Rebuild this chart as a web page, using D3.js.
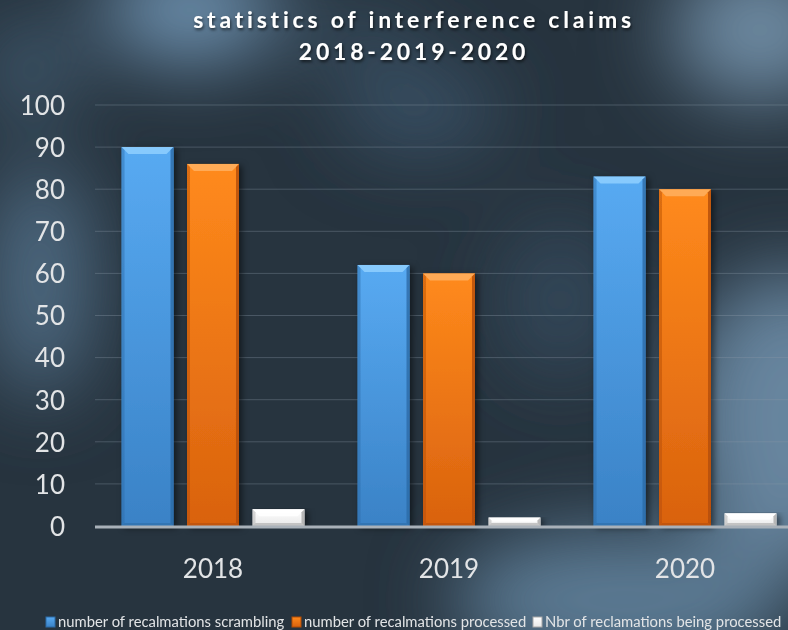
<!DOCTYPE html>
<html>
<head>
<meta charset="utf-8">
<script src="https://cdn.jsdelivr.net/npm/d3@7"></script>
<style>
  body { margin: 0; background: #26333f; }
  svg { display: block; }
</style>
</head>
<body>
<div id="chart"></div>
<script>
var years = ['2018', '2019', '2020'];
var series = ['number of recalmations scrambling', 'number of recalmations processed', 'Nbr of reclamations being processed'];
var scrambling = [90, 62, 83];
var processed = [86, 60, 80];
var beingProcessed = [4, 2, 3];
var yTicks = [0, 10, 20, 30, 40, 50, 60, 70, 80, 90, 100];

var width = 788, height = 630;
var margin = {top: 105, left: 95, bottom: 104};

var colors = [
  {top: '#58aaf2', bottom: '#3a82c6', light: '#8fd0ff', dark: '#2c6aa6'},
  {top: '#ff8a1c', bottom: '#d9620e', light: '#ffb060', dark: '#b24c06'},
  {top: '#ffffff', bottom: '#e8e8e8', light: '#ffffff', dark: '#a8a8a8'}
];

var svg = d3.select('#chart').append('svg')
    .attr('width', width)
    .attr('height', height);

var defs = svg.append('defs');

// background blotches
defs.append('filter').attr('id', 'blur')
    .attr('x', '-50%').attr('y', '-50%').attr('width', '200%').attr('height', '200%')
  .append('feGaussianBlur').attr('stdDeviation', 40);

var shadow = defs.append('filter').attr('id', 'tshadow');
shadow.append('feDropShadow').attr('dx', 1).attr('dy', 2).attr('stdDeviation', 1.5)
    .attr('flood-color', '#000').attr('flood-opacity', 0.6);

var barShadow = defs.append('filter').attr('id', 'bshadow')
    .attr('x', '-20%').attr('y', '-5%').attr('width', '150%').attr('height', '115%');
barShadow.append('feDropShadow').attr('dx', 3).attr('dy', 2).attr('stdDeviation', 3)
    .attr('flood-color', '#000').attr('flood-opacity', 0.5);

colors.forEach(function (c, i) {
  var g = defs.append('linearGradient').attr('id', 'grad' + i)
      .attr('x1', 0).attr('y1', 0).attr('x2', 0).attr('y2', 1);
  g.append('stop').attr('offset', '0%').attr('stop-color', c.top);
  g.append('stop').attr('offset', '100%').attr('stop-color', c.bottom);
});

svg.append('rect')
    .attr('width', width).attr('height', height)
    .attr('fill', '#27343f');

var blotches = [
  {x: 190, y: 10, rx: 90, ry: 50, c: '#7aa2c4', o: 0.9},
  {x: 760, y: 30, rx: 90, ry: 70, c: '#7c9cb6', o: 0.85},
  {x: 30, y: 70, rx: 40, ry: 50, c: '#4e6a84', o: 0.8},
  {x: 40, y: 280, rx: 50, ry: 120, c: '#55738e', o: 0.9},
  {x: 790, y: 420, rx: 110, ry: 150, c: '#6e8ea8', o: 0.9},
  {x: 620, y: 600, rx: 170, ry: 70, c: '#5f7f9a', o: 0.95},
  {x: 420, y: 110, rx: 80, ry: 40, c: '#44607a', o: 0.7},
  {x: 560, y: 300, rx: 60, ry: 80, c: '#3e566c', o: 0.6},
  {x: 360, y: 40, rx: 60, ry: 30, c: '#3f5a72', o: 0.6}
];

svg.append('g').attr('filter', 'url(#blur)')
  .selectAll('ellipse')
  .data(blotches)
  .enter()
  .append('ellipse')
    .attr('cx', d => d.x).attr('cy', d => d.y)
    .attr('rx', d => d.rx).attr('ry', d => d.ry)
    .attr('fill', d => d.c).attr('opacity', d => d.o);

// scales
var x0 = d3.scaleBand()
    .domain(years)
    .range([margin.left, 803])
    .paddingInner(0)
    .paddingOuter(0);

var x1 = d3.scaleBand()
    .domain(d3.range(series.length))
    .range([0, x0.bandwidth()])
    .paddingInner(0.206)
    .paddingOuter(0.405);

var y = d3.scaleLinear()
    .domain([0, 100])
    .range([526, margin.top]);

// grid
svg.append('g')
  .selectAll('line')
  .data(yTicks.filter(d => d > 0))
  .enter()
  .append('line')
    .attr('x1', margin.left).attr('x2', width)
    .attr('y1', d => y(d)).attr('y2', d => y(d))
    .attr('stroke', '#8b9aa8')
    .attr('stroke-opacity', 0.35)
    .attr('stroke-width', 1);

// y axis labels
var yAxis = d3.axisLeft(y).tickValues(yTicks).tickSize(0).tickPadding(0);
var ya = svg.append('g')
    .attr('transform', 'translate(65,0)')
    .call(yAxis);
ya.select('.domain').remove();
ya.selectAll('text')
    .attr('fill', '#e2e4e6')
    .attr('font-family', 'Lato, sans-serif')
    .attr('font-size', 26)
    .attr('dy', '0.36em');

// bars
var rows = years.map(function (yr, i) {
  return [scrambling[i], processed[i], beingProcessed[i]];
});

var groups = svg.append('g')
  .selectAll('g')
  .data(rows)
  .enter()
  .append('g')
    .attr('transform', (d, i) => 'translate(' + x0(years[i]) + ',0)');

var bars = groups.selectAll('g')
  .data(d => d.map((v, k) => ({v: v, k: k})))
  .enter()
  .append('g')
    .attr('filter', 'url(#bshadow)');

bars.each(function (d) {
  var g = d3.select(this);
  var bx = x1(d.k), bw = x1.bandwidth();
  var by = y(d.v), bb = y(0), bh = bb - by;
  var c = colors[d.k];
  var e = Math.min(7, bh / 2), s = Math.min(3, bh / 2);
  g.append('rect')
      .attr('x', bx).attr('y', by).attr('width', bw).attr('height', bh)
      .attr('fill', 'url(#grad' + d.k + ')');
  // top bevel
  g.append('polygon')
      .attr('points', [[bx, by], [bx + bw, by], [bx + bw - e, by + e], [bx + e, by + e]].join(' '))
      .attr('fill', c.light).attr('opacity', 0.85);
  // left edge
  g.append('polygon')
      .attr('points', [[bx, by], [bx + s, by + s], [bx + s, bb - s], [bx, bb]].join(' '))
      .attr('fill', c.dark).attr('opacity', 0.45);
  // right edge
  g.append('polygon')
      .attr('points', [[bx + bw, by], [bx + bw - s, by + s], [bx + bw - s, bb - s], [bx + bw, bb]].join(' '))
      .attr('fill', c.dark).attr('opacity', 0.8);
  // bottom edge
  g.append('polygon')
      .attr('points', [[bx, bb], [bx + s, bb - s], [bx + bw - s, bb - s], [bx + bw, bb]].join(' '))
      .attr('fill', c.dark).attr('opacity', 0.6);
});

// baseline
svg.append('line')
    .attr('x1', margin.left).attr('x2', width)
    .attr('y1', y(0) + 1).attr('y2', y(0) + 1)
    .attr('stroke', '#a9b1b9')
    .attr('stroke-width', 3);

// x labels
var xAxis = d3.axisBottom(x0).tickSize(0).tickPadding(0);
var xa = svg.append('g')
    .attr('transform', 'translate(0,' + (y(0) + 34) + ')')
    .call(xAxis);
xa.select('.domain').remove();
xa.selectAll('text')
    .attr('fill', '#e2e4e6')
    .attr('font-family', 'Lato, sans-serif')
    .attr('font-size', 26);

// title
var title = svg.append('text')
    .attr('x', 414)
    .attr('text-anchor', 'middle')
    .attr('fill', '#ffffff')
    .attr('font-family', 'Lato, sans-serif')
    .attr('font-weight', 'bold')
    .attr('font-size', 23)
    .attr('letter-spacing', 3.8)
    .attr('filter', 'url(#tshadow)');
title.append('tspan').attr('x', 414).attr('y', 28).text('statistics of interference claims');
title.append('tspan').attr('x', 414).attr('y', 60).text('2018-2019-2020');

// legend
var legendX = [46, 292, 533];
var legend = svg.append('g')
  .selectAll('g')
  .data(series)
  .enter()
  .append('g')
    .attr('transform', (d, i) => 'translate(' + legendX[i] + ',617)');

legend.append('rect')
    .attr('width', 9).attr('height', 10)
    .attr('fill', (d, i) => 'url(#grad' + i + ')')
    .attr('stroke', (d, i) => colors[i].dark)
    .attr('stroke-width', 1);

legend.append('text')
    .attr('x', 12).attr('y', 10)
    .attr('fill', '#e2e4e6')
    .attr('font-family', 'Lato, sans-serif')
    .attr('font-size', 14.8)
    .text(d => d);
</script>
</body>
</html>
